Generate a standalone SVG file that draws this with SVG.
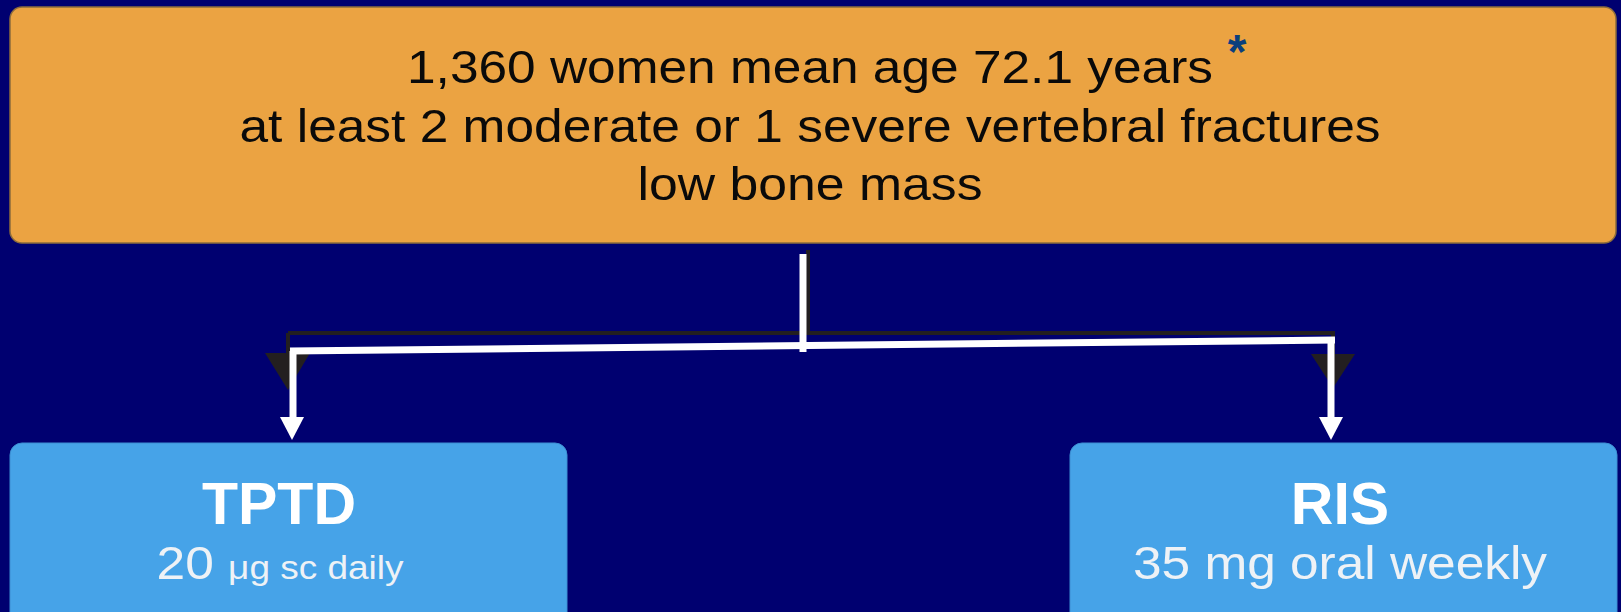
<svg xmlns="http://www.w3.org/2000/svg" width="1621" height="612" viewBox="0 0 1621 612">
<style>
.bg{fill:#000070}
.top{fill:#EBA342;stroke:#8C6C3C;stroke-width:1.5}
.arm{fill:#46A3E8;stroke:#3C8ED2;stroke-width:1}
.tt{font-family:"Liberation Sans",Arial,sans-serif;font-size:46px;fill:#0A0A0A;text-anchor:middle}
.hd{font-family:"Liberation Sans",Arial,sans-serif;font-size:59px;font-weight:bold;fill:#FFFFFF;text-anchor:middle}
.sub{font-family:"Liberation Sans",Arial,sans-serif;font-size:46px;fill:#EEF2F6;text-anchor:middle}
.shadow{fill:none;stroke:#231F20;stroke-width:4}
.wline{fill:none;stroke:#FFFFFF;stroke-width:7}
</style>
<rect class="bg" x="0" y="0" width="1621" height="612"/>
<g id="population">
<rect class="top" x="10" y="7" width="1606" height="236" rx="12"/>
<text class="tt" x="810" y="83" textLength="806" lengthAdjust="spacingAndGlyphs">1,360 women mean age 72.1 years</text>
<text x="1237" y="68" font-family="Liberation Sans,Arial,sans-serif" font-size="48" font-weight="bold" fill="#0B3F7C" text-anchor="middle">*</text>
<text class="tt" x="810" y="142" textLength="1141" lengthAdjust="spacingAndGlyphs">at least 2 moderate or 1 severe vertebral fractures</text>
<text class="tt" x="810" y="200" textLength="345" lengthAdjust="spacingAndGlyphs">low bone mass</text>
</g>
<g id="connectors">
<path class="shadow" d="M808 250 V333 H1333 V356 M288 333 H808 M288 333 V356"/>
<polygon points="265,353 310,353 288,390" fill="#231F20"/>
<polygon points="1311,354 1355,354 1333,388" fill="#231F20"/>
<path class="wline" d="M803 254 V352"/>
<path class="wline" d="M290 351 L1335 340"/>
<path class="wline" d="M293 351 V420"/>
<path class="wline" d="M1331 340 V420"/>
<polygon points="280,417 304,417 292,440" fill="#FFFFFF"/>
<polygon points="1319,417 1343,417 1331,440" fill="#FFFFFF"/>
</g>
<g id="tptd">
<rect class="arm" x="10" y="443" width="557" height="190" rx="12"/>
<text class="hd" x="279" y="524">TPTD</text>
<text class="sub" x="280" y="579" textLength="247" lengthAdjust="spacingAndGlyphs">20 <tspan font-size="33">μg sc daily</tspan></text>
</g>
<g id="ris">
<rect class="arm" x="1070" y="443" width="547" height="190" rx="12"/>
<text class="hd" x="1340" y="524">RIS</text>
<text class="sub" x="1340" y="579" textLength="414" lengthAdjust="spacingAndGlyphs">35 mg oral weekly</text>
</g>
</svg>
